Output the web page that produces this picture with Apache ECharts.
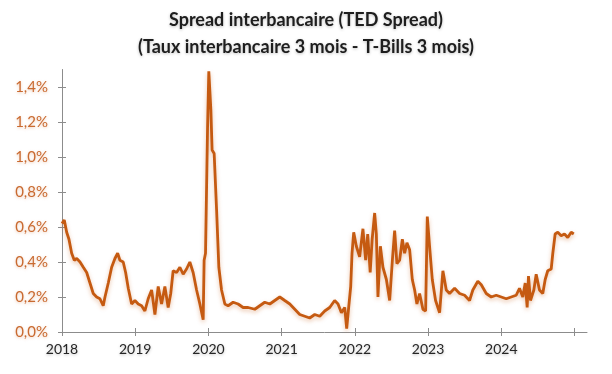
<!DOCTYPE html>
<html>
<head>
<meta charset="utf-8">
<script src="https://cdn.jsdelivr.net/npm/echarts@6/dist/echarts.min.js"></script>
<style>
html,body{margin:0;padding:0;background:#fff;}
#chart{width:612px;height:374px;}
</style>
</head>
<body>
<div id="chart"></div>
<script>
// Decimal years and TED spread values (%)
const dates = [
2018.000,2018.031,2018.064,2018.095,2018.132,2018.168,2018.201,2018.246,2018.291,2018.337,
2018.382,2018.427,2018.473,2018.518,2018.563,2018.587,2018.632,2018.678,2018.723,2018.760,
2018.791,2018.836,2018.869,2018.905,2018.951,2018.996,2019.041,2019.087,2019.132,2019.177,
2019.224,2019.269,2019.292,2019.314,2019.360,2019.405,2019.450,2019.485,2019.518,2019.565,
2019.610,2019.655,2019.701,2019.746,2019.791,2019.838,2019.883,2019.928,2019.941,2019.960,
2019.988,2020.005,2020.033,2020.050,2020.078,2020.111,2020.142,2020.179,2020.224,2020.269,
2020.337,2020.405,2020.473,2020.542,2020.633,2020.701,2020.769,2020.838,2020.906,2020.974,
2021.042,2021.111,2021.179,2021.247,2021.315,2021.383,2021.452,2021.520,2021.588,2021.656,
2021.724,2021.770,2021.816,2021.861,2021.888,2021.915,2021.943,2021.961,2021.984,2022.020,
2022.065,2022.110,2022.147,2022.175,2022.209,2022.236,2022.270,2022.293,2022.315,2022.348,
2022.383,2022.430,2022.475,2022.512,2022.543,2022.574,2022.611,2022.648,2022.679,2022.711,
2022.748,2022.784,2022.816,2022.847,2022.884,2022.929,2022.966,2022.989,2023.020,2023.057,
2023.102,2023.157,2023.202,2023.248,2023.293,2023.362,2023.430,2023.498,2023.566,2023.611,
2023.679,2023.726,2023.794,2023.862,2023.930,2023.999,2024.067,2024.135,2024.203,2024.248,
2024.293,2024.326,2024.353,2024.371,2024.398,2024.444,2024.476,2024.521,2024.566,2024.599,
2024.634,2024.681,2024.703,2024.735,2024.771,2024.817,2024.862,2024.907,2024.954,2024.989
];
const spread = [
0.62,0.64,0.57,0.53,0.45,0.41,0.42,0.40,0.37,0.34,
0.28,0.22,0.20,0.19,0.15,0.20,0.28,0.37,0.42,0.45,
0.41,0.40,0.34,0.25,0.16,0.18,0.16,0.15,0.12,0.19,
0.24,0.10,0.09,0.26,0.16,0.26,0.14,0.22,0.35,0.34,
0.37,0.33,0.36,0.40,0.34,0.24,0.16,0.07,0.41,0.45,
1.17,1.49,1.27,1.04,1.02,0.70,0.37,0.24,0.16,0.15,
0.17,0.16,0.14,0.14,0.13,0.15,0.17,0.16,0.18,0.20,
0.18,0.16,0.13,0.10,0.09,0.08,0.10,0.09,0.12,0.14,
0.18,0.16,0.11,0.14,0.02,0.14,0.26,0.45,0.57,0.49,
0.43,0.59,0.41,0.56,0.34,0.53,0.68,0.56,0.20,0.49,
0.37,0.30,0.18,0.41,0.58,0.39,0.41,0.53,0.45,0.51,
0.47,0.30,0.24,0.16,0.22,0.13,0.12,0.66,0.49,0.30,
0.18,0.11,0.35,0.24,0.22,0.25,0.22,0.21,0.18,0.24,
0.29,0.27,0.22,0.20,0.21,0.20,0.19,0.20,0.21,0.25,
0.20,0.28,0.14,0.32,0.18,0.24,0.33,0.24,0.22,0.30,
0.35,0.36,0.45,0.56,0.57,0.55,0.56,0.54,0.57,0.56
];
const yearTicks = [2018,2019,2020,2021,2022,2023,2024,2025];
const yearLabels = [2018,2019,2020,2021,2022,2023,2024];
const yTicks = [0,0.2,0.4,0.6,0.8,1.0,1.2,1.4];

const titleText = 'Spread interbancaire (TED Spread)\n(Taux interbancaire 3 mois - T-Bills 3 mois)';

const seriesData = dates.map((d, i) => [d, spread[i]]);

const chart = echarts.init(document.getElementById('chart'), null, {renderer: 'canvas'});
const axisColor = '#8c8c8c';
const lineColor = '#C55A11';

chart.setOption({
  animation: false,
  backgroundColor: '#ffffff',
  title: {
    text: titleText,
    left: 'center',
    top: 2,
    textStyle: {
      fontFamily: 'Lato',
      fontWeight: 'bold',
      fontSize: 18,
      lineHeight: 27,
      color: '#1e1e1e',
      textShadowColor: 'rgba(0,0,0,0.25)',
      textShadowBlur: 3,
      textShadowOffsetY: 1
    }
  },
  grid: {left: 62, right: 25, top: 69.5, bottom: 42},
  xAxis: [{
    type: 'value',
    min: 2018,
    max: 2025.17,
    axisLine: {show: true, lineStyle: {color: axisColor, width: 1}},
    axisTick: {show: true, length: 4, customValues: yearTicks, lineStyle: {color: axisColor}},
    axisLabel: {
      customValues: yearLabels,
      margin: 10,
      fontFamily: 'Lato',
      fontSize: 14,
      color: '#262626',
      formatter: v => String(Math.round(v)),
      textShadowColor: 'rgba(0,0,0,0.25)',
      textShadowBlur: 3,
      textShadowOffsetY: 1
    },
    splitLine: {show: false}
  }, {
    type: 'value',
    position: 'bottom',
    min: 2018,
    max: 2025.17,
    axisLine: {show: false},
    axisTick: {show: true, inside: true, length: 4, customValues: yearTicks, lineStyle: {color: axisColor}},
    axisLabel: {show: false},
    splitLine: {show: false}
  }],
  yAxis: [{
    type: 'value',
    min: 0,
    max: 1.5,
    axisLine: {show: true, lineStyle: {color: axisColor, width: 1}},
    axisTick: {show: true, length: 4, customValues: yTicks, lineStyle: {color: axisColor}},
    axisLabel: {
      customValues: yTicks,
      margin: 14,
      fontFamily: 'Lato',
      fontSize: 15,
      color: '#C96A30',
      formatter: v => v.toFixed(1).replace('.', ',') + '%',
      textShadowColor: 'rgba(200,100,40,0.35)',
      textShadowBlur: 3,
      textShadowOffsetY: 1
    },
    splitLine: {show: false}
  }, {
    type: 'value',
    position: 'left',
    min: 0,
    max: 1.5,
    axisLine: {show: false},
    axisTick: {show: true, inside: true, length: 4, customValues: yTicks, lineStyle: {color: axisColor}},
    axisLabel: {show: false},
    splitLine: {show: false}
  }],
  series: [{
    type: 'line',
    data: seriesData,
    xAxisIndex: 0,
    yAxisIndex: 0,
    showSymbol: false,
    smooth: false,
    lineStyle: {
      color: lineColor,
      width: 2.8,
      shadowColor: 'rgba(197,90,17,0.35)',
      shadowBlur: 4,
      shadowOffsetY: 2
    },
    clip: true
  }]
});
</script>
</body>
</html>
